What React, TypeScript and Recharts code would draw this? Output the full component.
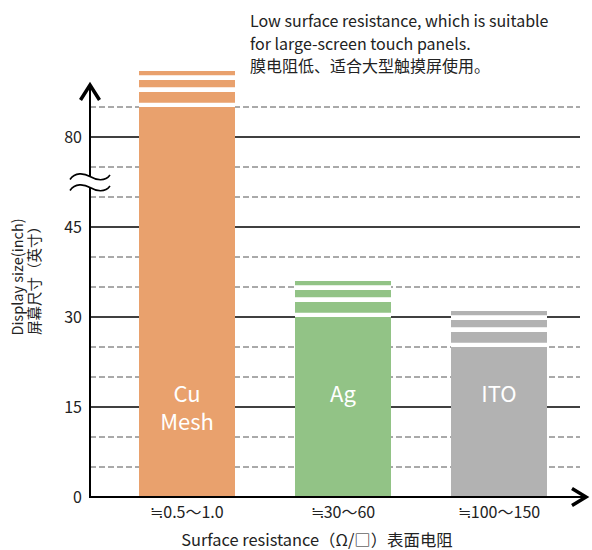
import React from "react";
import {
  BarChart,
  Bar,
  XAxis,
  YAxis,
  CartesianGrid,
  ReferenceLine,
  ReferenceDot,
  LabelList,
  Cell,
  Label,
} from "recharts";

// ---------- data ----------
const categories = ["≒0.5〜1.0", "≒30〜60", "≒100〜150"];
const materials = ["Cu\nMesh", "Ag", "ITO"];
const displaySizes = [85, 30, 25]; // inch (value at top of solid bar)
const barColors = ["#E9A16D", "#92C386", "#B2B2B2"];
// "continues" stripes above each bar (in inch units): gap, block, gap, block, gap, block
const stripeGaps = [0.7, 0.8, 0.8];
const stripeBlocks = [1.8, 1.2, 0.7];

const yTickLabels = [0, 15, 30, 45, 80];
const solidLevels = [15, 30, 45, 80];
const dashedLevels = [5, 10, 20, 25, 35, 40, 50, 75, 85];

// axis break: values between 50 and 75 are compressed to 5 units
const breakLow = 50;
const breakHigh = 75;
const breakKept = 5;
const breakMarkValue = 52.5; // on display scale
const yArrowTip = 89; // inch
const yDomainTop = 92; // inch

const annotation = [
  "Low surface resistance, which is suitable",
  "for large-screen touch panels.",
  "膜电阻低、适合大型触摸屏使用。",
];
const yLabelLines = ["Display size(inch)", "屏幕尺寸（英寸）"];
const xLabelText = "Surface resistance（Ω/□）表面电阻";

const FONT = "'Noto Sans CJK SC', 'Noto Sans', sans-serif";

const toDisplay = (v: number) =>
  v <= breakLow ? v : v - (breakHigh - breakLow - breakKept);

const rows = categories.map((c, i) => ({
  category: c,
  material: materials[i],
  main: toDisplay(displaySizes[i]),
  g1: stripeGaps[0],
  s1: stripeBlocks[0],
  g2: stripeGaps[1],
  s2: stripeBlocks[1],
  g3: stripeGaps[2],
  s3: stripeBlocks[2],
}));

const tickLabelMap: Record<number, string> = {};
yTickLabels.forEach((v) => {
  tickLabelMap[toDisplay(v)] = String(v);
});

// ---------- custom drawing ----------
const YAxisArrow = (p: any) => {
  const { x1, y1, x2, y2 } = p;
  return (
    <g>
      <line x1={x1} y1={y1 + 1} x2={x2} y2={y2 + 2} stroke="#000" strokeWidth={2} />
      <polyline
        points={`${x2 - 9.5},${y2 + 17} ${x2},${y2 + 2} ${x2 + 9.5},${y2 + 17}`}
        fill="none"
        stroke="#000"
        strokeWidth={3.5}
      />
    </g>
  );
};

// horizontal axis: drawn across the plot width and continued a little past it into the arrowhead
const XAxisArrow = (p: any) => {
  const { x1, y1, y2 } = p;
  const tip = p.x2 + 7;
  return (
    <g>
      <line x1={x1 - 1} y1={y1} x2={tip - 2} y2={y2} stroke="#000" strokeWidth={2} />
      <polyline
        points={`${tip - 15},${y2 - 8.5} ${tip - 1},${y2} ${tip - 15},${y2 + 8.5}`}
        fill="none"
        stroke="#000"
        strokeWidth={3.5}
      />
    </g>
  );
};

const BreakMark = (p: any) => {
  const { cx, cy } = p;
  const wave = "M -20 -2.5 C -15 -10, -6 -9, 0 -5.5 S 15 0, 20 -7";
  return (
    <g transform={`translate(${cx},${cy})`}>
      <rect x={-4} y={-6} width={8} height={11} fill="#fff" />
      <path d={wave} fill="none" stroke="#000" strokeWidth={1.6} />
      <path d={wave} transform="translate(0,11)" fill="none" stroke="#000" strokeWidth={1.6} />
    </g>
  );
};

const BarText = (p: any) => {
  const { x, y, width, height, value } = p;
  const lines = String(value).split("\n");
  const cx = Number(x) + Number(width) / 2;
  const base = Number(y) + Number(height) - 103;
  return (
    <g>
      {lines.map((l, i) => (
        <text
          key={i}
          x={cx}
          y={base + i * 28}
          dy="0.35em"
          textAnchor="middle"
          fill="#fff"
          fontSize={22}
          fontFamily={FONT}
        >
          {l}
        </text>
      ))}
    </g>
  );
};

const XLabelContent = (p: any) => {
  const vb = p.viewBox || {};
  return (
    <text
      x={vb.x + vb.width / 2 - 18}
      y={vb.y + 49}
      textAnchor="middle"
      fontSize={16.4}
      fill="#222"
      fontFamily={FONT}
    >
      {xLabelText}
    </text>
  );
};

const YLabelContent = (p: any) => {
  const vb = p.viewBox || {};
  const cx = vb.x + 26;
  const cy = vb.y + vb.height / 2 - 4;
  return (
    <text
      transform={`rotate(-90 ${cx} ${cy})`}
      textAnchor="middle"
      fontSize={14.5}
      fill="#222"
      fontFamily={FONT}
    >
      <tspan x={cx} y={cy - 8} dy="0.35em">
        {yLabelLines[0]}
      </tspan>
      <tspan x={cx} y={cy + 8.5} dy="0.35em">
        {yLabelLines[1]}
      </tspan>
    </text>
  );
};

export default function App() {
  const stripeKeys = ["g1", "s1", "g2", "s2", "g3", "s3"];
  return (
    <div
      style={{
        position: "absolute",
        left: 0,
        top: 0,
        width: 592,
        height: 550,
        background: "#fff",
        fontFamily: FONT,
      }}
    >
      <BarChart
        width={592}
        height={550}
        data={rows}
        margin={{ top: 65, right: 12, bottom: 0, left: 0 }}
      >
        <CartesianGrid
          vertical={false}
          horizontalValues={dashedLevels.map(toDisplay)}
          stroke="#555"
          strokeDasharray="6 3"
        />
        <CartesianGrid
          vertical={false}
          horizontalValues={solidLevels.map(toDisplay)}
          stroke="#000"
          strokeWidth={1.3}
        />
        <XAxis
          dataKey="category"
          axisLine={false}
          tickLine={false}
          height={53}
          padding={{ left: 19, right: 3 }}
          tick={{ fontSize: 16, fill: "#222", fontFamily: FONT }}
          tickMargin={4}
          interval={0}
          label={<Label content={XLabelContent} />}
        />
        <XAxis
          xAxisId="num"
          type="number"
          domain={[0, 1]}
          allowDataOverflow
          hide
        />
        <YAxis
          type="number"
          domain={[0, toDisplay(yDomainTop)]}
          ticks={yTickLabels.map(toDisplay)}
          tickFormatter={(v: number) => tickLabelMap[v] ?? ""}
          axisLine={false}
          tickLine={false}
          width={90}
          tick={{ fontSize: 16, fill: "#222", fontFamily: FONT }}
          label={<Label content={YLabelContent} />}
        />
        <Bar dataKey="main" stackId="a" barSize={96} isAnimationActive={false}>
          {rows.map((r, i) => (
            <Cell key={r.category} fill={barColors[i]} />
          ))}
          <LabelList dataKey="material" content={BarText} />
        </Bar>
        {stripeKeys.map((k) => (
          <Bar key={k} dataKey={k} stackId="a" barSize={96} isAnimationActive={false}>
            {rows.map((r, i) => (
              <Cell key={r.category} fill={k.startsWith("g") ? "#FFFFFF" : barColors[i]} />
            ))}
          </Bar>
        ))}
        <ReferenceLine
          xAxisId="num"
          segment={[
            { x: 0, y: 0 },
            { x: 0, y: toDisplay(yArrowTip) },
          ]}
          ifOverflow="visible"
          shape={YAxisArrow}
        />
        <ReferenceLine
          xAxisId="num"
          y={0}
          ifOverflow="visible"
          shape={XAxisArrow}
        />
        <ReferenceDot
          xAxisId="num"
          x={0}
          y={breakMarkValue}
          ifOverflow="visible"
          shape={BreakMark}
        />
      </BarChart>
      <div
        style={{
          position: "absolute",
          left: 250,
          top: 9,
          fontSize: 16,
          lineHeight: "22.5px",
          color: "#222",
          whiteSpace: "pre",
          fontFamily: FONT,
        }}
      >
        {annotation.join("\n")}
      </div>
    </div>
  );
}
